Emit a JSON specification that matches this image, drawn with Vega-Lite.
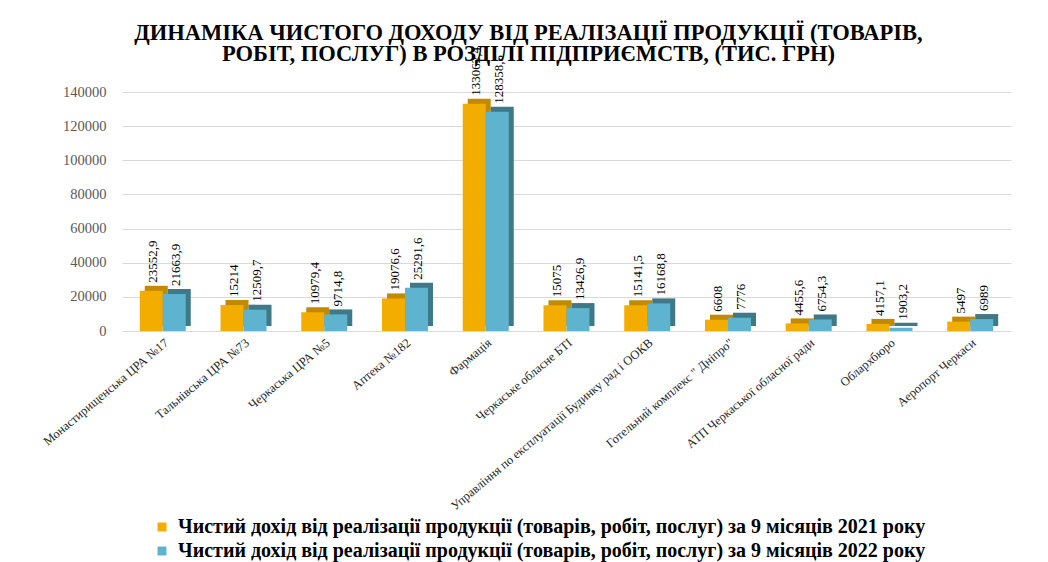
{
  "$schema": "https://vega.github.io/schema/vega-lite/v6.json",
  "width": 889,
  "height": 239,
  "autosize": {"type": "none"},
  "padding": {"left": 122, "top": 92, "right": 37, "bottom": 231},
  "background": "white",
  "config": {
    "locale": {"number": {"decimal": ",", "thousands": "", "grouping": [3], "currency": ["", ""]}},
    "view": {"stroke": null},
    "font": "Liberation Serif"
  },
  "title": {
    "text": ["ДИНАМІКА ЧИСТОГО ДОХОДУ ВІД РЕАЛІЗАЦІЇ ПРОДУКЦІЇ (ТОВАРІВ,", "РОБІТ, ПОСЛУГ) В РОЗДІЛІ ПІДПРИЄМСТВ, (ТИС. ГРН)"],
    "font": "Liberation Serif",
    "fontSize": 22.5,
    "fontWeight": "bold",
    "color": "#000000",
    "anchor": "middle",
    "dx": -38,
    "lineHeight": 21,
    "offset": -18
  },
  "data": {
    "values": [
      {"org": "Монастирищенська ЦРА №17", "series": "Чистий дохід від реалізації продукції (товарів, робіт, послуг) за 9 місяців 2021 року", "value": 23552.9},
      {"org": "Монастирищенська ЦРА №17", "series": "Чистий дохід від реалізації продукції (товарів, робіт, послуг) за 9 місяців 2022 року", "value": 21663.9},
      {"org": "Тальнівська ЦРА №73", "series": "Чистий дохід від реалізації продукції (товарів, робіт, послуг) за 9 місяців 2021 року", "value": 15214},
      {"org": "Тальнівська ЦРА №73", "series": "Чистий дохід від реалізації продукції (товарів, робіт, послуг) за 9 місяців 2022 року", "value": 12509.7},
      {"org": "Черкаська ЦРА №5", "series": "Чистий дохід від реалізації продукції (товарів, робіт, послуг) за 9 місяців 2021 року", "value": 10979.4},
      {"org": "Черкаська ЦРА №5", "series": "Чистий дохід від реалізації продукції (товарів, робіт, послуг) за 9 місяців 2022 року", "value": 9714.8},
      {"org": "Аптека №182", "series": "Чистий дохід від реалізації продукції (товарів, робіт, послуг) за 9 місяців 2021 року", "value": 19076.6},
      {"org": "Аптека №182", "series": "Чистий дохід від реалізації продукції (товарів, робіт, послуг) за 9 місяців 2022 року", "value": 25291.6},
      {"org": "Фармація", "series": "Чистий дохід від реалізації продукції (товарів, робіт, послуг) за 9 місяців 2021 року", "value": 133062.4},
      {"org": "Фармація", "series": "Чистий дохід від реалізації продукції (товарів, робіт, послуг) за 9 місяців 2022 року", "value": 128358.5},
      {"org": "Черкаське обласне БТІ", "series": "Чистий дохід від реалізації продукції (товарів, робіт, послуг) за 9 місяців 2021 року", "value": 15075},
      {"org": "Черкаське обласне БТІ", "series": "Чистий дохід від реалізації продукції (товарів, робіт, послуг) за 9 місяців 2022 року", "value": 13426.9},
      {"org": "Управління по експлуатації Будинку рад і ООКВ", "series": "Чистий дохід від реалізації продукції (товарів, робіт, послуг) за 9 місяців 2021 року", "value": 15141.5},
      {"org": "Управління по експлуатації Будинку рад і ООКВ", "series": "Чистий дохід від реалізації продукції (товарів, робіт, послуг) за 9 місяців 2022 року", "value": 16168.8},
      {"org": "Готельний комплекс \" Дніпро\"", "series": "Чистий дохід від реалізації продукції (товарів, робіт, послуг) за 9 місяців 2021 року", "value": 6608},
      {"org": "Готельний комплекс \" Дніпро\"", "series": "Чистий дохід від реалізації продукції (товарів, робіт, послуг) за 9 місяців 2022 року", "value": 7776},
      {"org": "АТП Черкаської обласної ради", "series": "Чистий дохід від реалізації продукції (товарів, робіт, послуг) за 9 місяців 2021 року", "value": 4455.6},
      {"org": "АТП Черкаської обласної ради", "series": "Чистий дохід від реалізації продукції (товарів, робіт, послуг) за 9 місяців 2022 року", "value": 6754.3},
      {"org": "Облархбюро", "series": "Чистий дохід від реалізації продукції (товарів, робіт, послуг) за 9 місяців 2021 року", "value": 4157.1},
      {"org": "Облархбюро", "series": "Чистий дохід від реалізації продукції (товарів, робіт, послуг) за 9 місяців 2022 року", "value": 1903.2},
      {"org": "Аеропорт Черкаси", "series": "Чистий дохід від реалізації продукції (товарів, робіт, послуг) за 9 місяців 2021 року", "value": 5497},
      {"org": "Аеропорт Черкаси", "series": "Чистий дохід від реалізації продукції (товарів, робіт, послуг) за 9 місяців 2022 року", "value": 6989}
    ]
  },
  "encoding": {
    "x": {
      "field": "org",
      "type": "nominal",
      "sort": null,
      "scale": {"paddingInner": 0.43, "paddingOuter": 0.22},
      "axis": {
        "title": null,
        "labelAngle": -40,
        "labelAlign": "right",
        "labelBaseline": "top",
        "labelFont": "Liberation Serif",
        "labelFontSize": 12.5,
        "labelColor": "#262626",
        "labelLimit": 400,
        "labelPadding": 5,
        "ticks": false,
        "domain": false
      }
    },
    "y": {
      "field": "value",
      "type": "quantitative",
      "scale": {"domain": [0, 140000], "nice": false},
      "axis": {
        "title": null,
        "values": [0, 20000, 40000, 60000, 80000, 100000, 120000, 140000],
        "format": "d",
        "labelFont": "Liberation Serif",
        "labelFontSize": 14.5,
        "labelColor": "#595959",
        "labelPadding": 16,
        "ticks": false,
        "domain": false,
        "gridColor": "#d9d9d9",
        "gridWidth": 1.2
      }
    }
  },
  "layer": [
    {
      "mark": {"type": "bar", "yOffset": -5},
      "encoding": {
        "xOffset": {"field": "series", "type": "nominal", "scale": {"range": [5, 51]}},
        "color": {
          "field": "series",
          "type": "nominal",
          "scale": {"range": ["#c18a00", "#3f7886"]},
          "legend": null
        }
      }
    },
    {
      "mark": {"type": "bar"},
      "encoding": {
        "xOffset": {"field": "series", "type": "nominal", "scale": {"range": [0, 46]}},
        "color": {
          "field": "series",
          "type": "nominal",
          "scale": {"range": ["#f2ad00", "#5eb4ce"]},
          "legend": {
            "title": null,
            "orient": "none",
            "legendX": 30,
            "legendY": 425,
            "direction": "vertical",
            "symbolType": "square",
            "symbolSize": 80,
            "labelFont": "Liberation Serif",
            "labelFontSize": 20,
            "labelFontWeight": "bold",
            "labelColor": "#000000",
            "labelLimit": 1000,
            "rowPadding": 4,
            "labelOffset": 6
          }
        }
      }
    },
    {
      "mark": {"type": "text", "angle": -90, "align": "left", "baseline": "middle", "dx": 8, "font": "Liberation Serif", "fontSize": 13, "color": "#000000"},
      "encoding": {
        "xOffset": {"field": "series", "type": "nominal", "scale": {"range": [2, 48]}},
        "text": {"field": "value", "type": "quantitative", "format": ".7~g"}
      }
    }
  ],
  "resolve": {"scale": {"color": "independent", "xOffset": "independent"}, "legend": {"color": "independent"}}
}
